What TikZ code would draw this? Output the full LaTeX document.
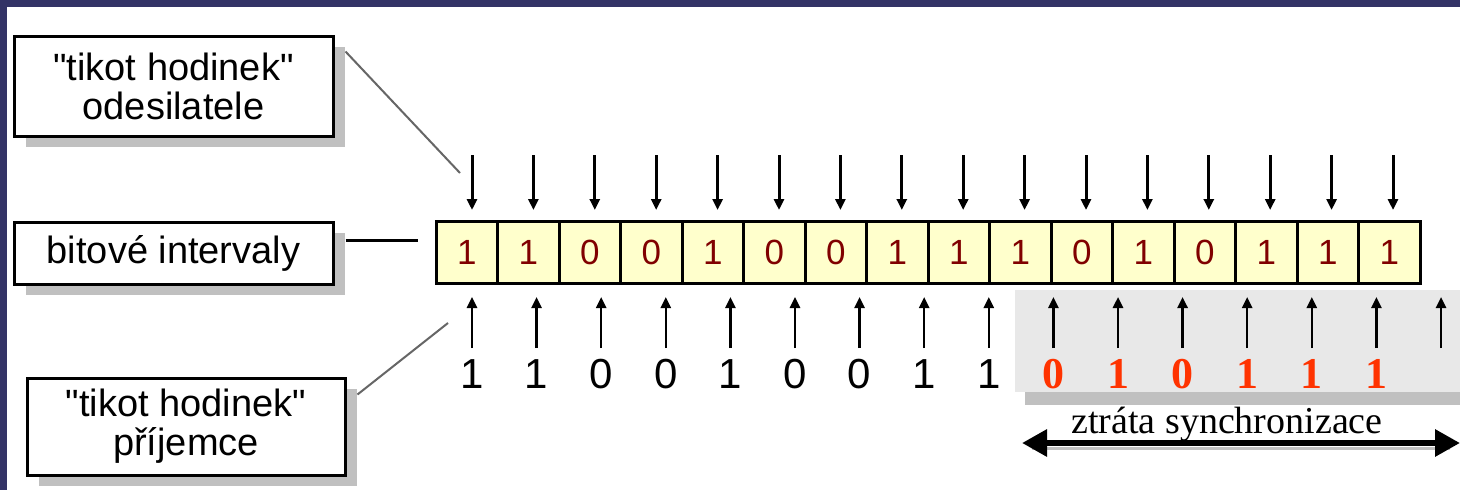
\documentclass[tikz,border=0pt]{standalone}
\usepackage{fontspec}
\setmainfont{Liberation Sans}
\newfontfamily\timesfont{Liberation Serif}
\usetikzlibrary{arrows.meta,shadows}
\definecolor{navy}{HTML}{333366}
\definecolor{cellfill}{HTML}{FFFFCC}
\definecolor{bitred}{HTML}{800000}
\definecolor{lossred}{HTML}{FF3300}
\definecolor{lossgray}{HTML}{E8E8E8}
\definecolor{shadowgray}{HTML}{C0C0C0}
\definecolor{leadergray}{HTML}{666666}

\begin{document}
\begin{tikzpicture}[x=1pt,y=-1pt,
    label box/.style={draw, line width=3pt, fill=white, align=center, inner sep=0pt,
      font=\fontsize{38}{39}\selectfont,
      drop shadow={shadow xshift=12pt, shadow yshift=-11pt, fill=shadowgray, opacity=1}},
    cell/.style={draw, line width=3pt, fill=cellfill, minimum width=61.5pt, minimum height=62pt,
      inner sep=0pt, text=bitred, font=\fontsize{35}{35}\selectfont},
    tick/.style={line width=3pt, -{Triangle[length=11pt,width=10pt]}},
    leader/.style={leadergray, line width=2pt}]
    \useasboundingbox (0,0) rectangle (1460,490);
    \fill[white] (0,0) rectangle (1460,490);
    \fill[navy] (0,0) rectangle (1460,7);
    \fill[navy] (0,0) rectangle (7,490);

    % Labels
    \node[label box, minimum width=319pt, minimum height=100pt] (sender) at (173.5,86) {\textquotedbl tikot hodinek\textquotedbl\\odesilatele};
    \node[label box, minimum width=319pt, minimum height=62pt] (bits) at (173.5,253) {bitové intervaly};
    \node[label box, minimum width=318pt, minimum height=97pt] (receiver) at (186,426.5) {\textquotedbl tikot hodinek\textquotedbl\\příjemce};

    % Bit cells
    \foreach \b [count=\i] in {1,1,0,0,1,0,0,1,1,1,0,1,0,1,1,1}
        \node[cell] (c\i) at ({436+61.5*(\i-0.5)},252) {\b};

    % Sender clock
    \foreach \i in {1,...,16} {
        \coordinate (ts\i) at ({472+61.4*(\i-1)},155);
        \coordinate (te\i) at ({472+61.4*(\i-1)},210);
        \draw[tick] (ts\i) -- (te\i);
    }

    % Lost sync area
    \fill[shadowgray] (1025,300) rectangle (1460,405);
    \fill[lossgray] (1015,290) rectangle (1460,392);

    % Receiver clock
    \foreach \i in {1,...,16} {
        \coordinate (rs\i) at ({472+64.6*(\i-1)},348);
        \coordinate (re\i) at ({472+64.6*(\i-1)},297);
        \draw[tick, line width=2.5pt] (rs\i) -- (re\i);
    }
    \foreach \b [count=\i] in {1,1,0,0,1,0,0,1,1}
        \node[anchor=base, font=\fontsize{42}{42}\selectfont] (r\i) at ({472+64.6*(\i-1)},388) {\b};
    \foreach \b [count=\i from 10] in {0,1,0,1,1,1}
        \node[anchor=base, text=lossred, font=\timesfont\bfseries\fontsize{44}{44}\selectfont] (r\i) at ({472+64.6*(\i-1)},388) {\b};

    % Leaders
    \coordinate (sendtip) at (460,173);
    \coordinate (bitstip) at (418,240);
    \coordinate (recvtip) at (448,323);
    \draw[leader] ([shift={(11,17)}]sender.north east) -- (sendtip);
    \draw[line width=3pt] ([shift={(11,-13)}]bits.east) -- (bitstip);
    \draw[leader] ([shift={(11,18)}]receiver.north east) -- (recvtip);

    % Loss of synchronisation
    \coordinate (syncL) at (1022,443);
    \coordinate (syncR) at (1460,443);
    \draw[shadowgray, line width=3pt] ([shift={(10,5)}]syncL) -- ([shift={(-10,5)}]syncR);
    \draw[line width=6pt, {Triangle[length=25pt,width=26pt]}-{Triangle[length=25pt,width=26pt]}] (syncL) -- (syncR);
    \node[anchor=base, font=\timesfont\fontsize{38}{38}\selectfont] (sync) at (1227,433) {ztráta synchronizace};
\end{tikzpicture}
\end{document}
